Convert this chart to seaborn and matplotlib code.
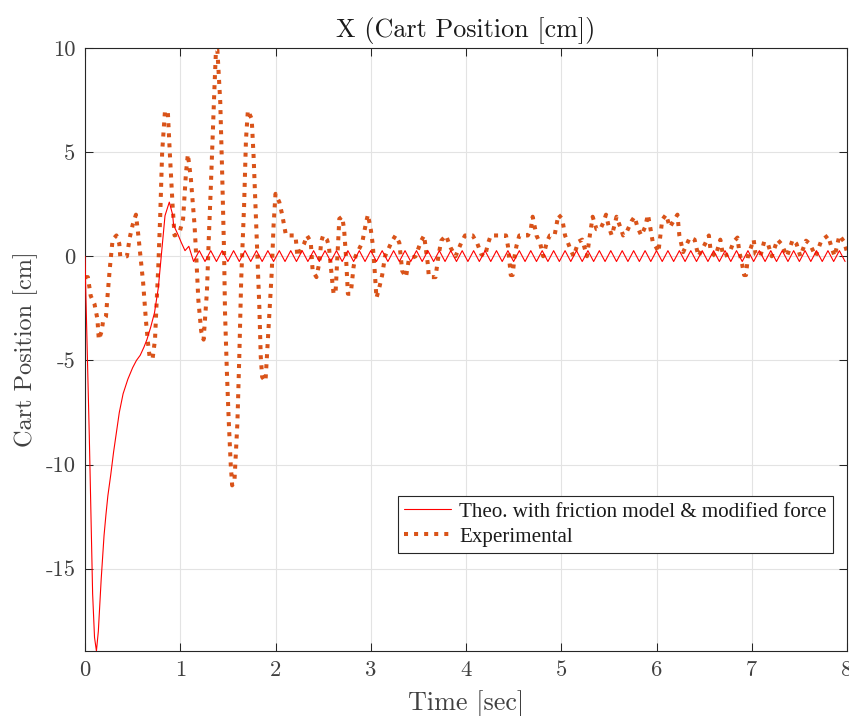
import numpy as np
import pandas as pd
import matplotlib
matplotlib.use("Agg")
import matplotlib.pyplot as plt
import seaborn as sns
from matplotlib.lines import Line2D

# ---------------- data ----------------
# theoretical transient (time [s], position [cm])
theo_trans_t = [0.00, 0.01, 0.045, 0.08, 0.10, 0.12, 0.14, 0.17, 0.20, 0.22,
                0.24, 0.27, 0.30, 0.325, 0.36, 0.40, 0.45, 0.50, 0.54, 0.58,
                0.62, 0.65, 0.69, 0.73, 0.77, 0.80, 0.84, 0.885, 0.92, 0.93,
                0.98, 1.01, 1.05, 1.09]
theo_trans_v = [0.0, -2.0, -8.6, -16.2, -18.3, -18.95, -18.0, -15.5, -13.4, -12.4,
                -11.5, -10.5, -9.4, -8.6, -7.5, -6.6, -5.9, -5.35, -5.0, -4.75,
                -4.35, -4.0, -3.4, -2.7, -1.5, 0.0, 1.95, 2.6, 2.0, 1.5,
                1.0, 0.67, 0.27, 0.48]
# theoretical steady oscillation (troughs / peaks)
theo_osc_t = [1.14, 1.20, 1.26, 1.32, 1.38, 1.44, 1.50, 1.56, 1.62, 1.68,
              1.74, 1.80, 1.86, 1.92, 1.98, 2.04, 2.10, 2.16, 2.22, 2.28,
              2.34, 2.40, 2.46, 2.52, 2.58, 2.64, 2.70, 2.76, 2.82, 2.88,
              2.94, 3.00, 3.06, 3.12, 3.18, 3.24, 3.30, 3.36, 3.42, 3.48,
              3.54, 3.60, 3.66, 3.72, 3.78, 3.84, 3.90, 3.96, 4.02, 4.08,
              4.14, 4.20, 4.26, 4.32, 4.38, 4.44, 4.50, 4.56, 4.62, 4.68,
              4.74, 4.80, 4.86, 4.92, 4.98, 5.04, 5.10, 5.16, 5.22, 5.28,
              5.34, 5.40, 5.46, 5.52, 5.58, 5.64, 5.70, 5.76, 5.82, 5.88,
              5.94, 6.00, 6.06, 6.12, 6.18, 6.24, 6.30, 6.36, 6.42, 6.48,
              6.54, 6.60, 6.66, 6.72, 6.78, 6.84, 6.90, 6.96, 7.02, 7.08,
              7.14, 7.20, 7.26, 7.32, 7.38, 7.44, 7.50, 7.56, 7.62, 7.68,
              7.74, 7.80, 7.86, 7.92, 7.98]
theo_osc_v = [-0.25, 0.27, -0.25, 0.27, -0.25, 0.27, -0.25, 0.27, -0.25, 0.27,
              -0.25, 0.27, -0.25, 0.27, -0.25, 0.27, -0.25, 0.27, -0.25, 0.27,
              -0.25, 0.27, -0.25, 0.27, -0.25, 0.27, -0.25, 0.27, -0.25, 0.27,
              -0.25, 0.27, -0.25, 0.27, -0.25, 0.27, -0.25, 0.27, -0.25, 0.27,
              -0.25, 0.27, -0.25, 0.27, -0.25, 0.27, -0.25, 0.27, -0.25, 0.27,
              -0.25, 0.27, -0.25, 0.27, -0.25, 0.27, -0.25, 0.27, -0.25, 0.27,
              -0.25, 0.27, -0.25, 0.27, -0.25, 0.27, -0.25, 0.27, -0.25, 0.27,
              -0.25, 0.27, -0.25, 0.27, -0.25, 0.27, -0.25, 0.27, -0.25, 0.27,
              -0.25, 0.27, -0.25, 0.27, -0.25, 0.27, -0.25, 0.27, -0.25, 0.27,
              -0.25, 0.27, -0.25, 0.27, -0.25, 0.27, -0.25, 0.27, -0.25, 0.27,
              -0.25, 0.27, -0.25, 0.27, -0.25, 0.27, -0.25, 0.27, -0.25, 0.27,
              -0.25, 0.27, -0.25, 0.27, -0.25]

# experimental (time [s], position [cm])
exp_t = [0.00, 0.03, 0.06, 0.10, 0.13, 0.145, 0.175, 0.19, 0.22, 0.235,
         0.26, 0.29, 0.33, 0.36, 0.37, 0.44, 0.47, 0.50, 0.535, 0.56,
         0.58, 0.61, 0.64, 0.66, 0.68, 0.71, 0.735, 0.75, 0.77, 0.79,
         0.81, 0.84, 0.87, 0.89, 0.92, 0.94, 0.99, 1.03, 1.06, 1.08,
         1.11, 1.15, 1.17, 1.19, 1.22, 1.245, 1.26, 1.28, 1.30, 1.32,
         1.34, 1.36, 1.375, 1.39, 1.42, 1.44, 1.46, 1.47, 1.49, 1.51,
         1.53, 1.545, 1.57, 1.60, 1.62, 1.64, 1.67, 1.69, 1.71, 1.75,
         1.77, 1.79, 1.81, 1.83, 1.845, 1.86, 1.895, 1.91, 1.93, 1.96,
         1.98, 2.00, 2.04, 2.07, 2.11, 2.21, 2.23, 2.30, 2.33, 2.37,
         2.39, 2.43, 2.46, 2.48, 2.50, 2.54, 2.56, 2.60, 2.61, 2.63,
         2.65, 2.67, 2.70, 2.72, 2.74, 2.76, 2.79, 2.82, 2.84, 2.91,
         2.95, 2.97, 3.00, 3.02, 3.04, 3.06, 3.09, 3.12, 3.15, 3.22,
         3.26, 3.30, 3.33, 3.37, 3.40, 3.47, 3.53, 3.56, 3.60, 3.61,
         3.68, 3.71, 3.74, 3.79, 3.84, 3.89, 3.95, 3.99, 4.07, 4.12,
         4.16, 4.20, 4.23, 4.26, 4.42, 4.44, 4.47, 4.49, 4.51, 4.53,
         4.56, 4.65, 4.68, 4.70, 4.74, 4.78, 4.81, 4.85, 4.88, 4.93,
         4.97, 5.01, 5.04, 5.10, 5.13, 5.18, 5.22, 5.27, 5.30, 5.33,
         5.37, 5.41, 5.44, 5.47, 5.50, 5.53, 5.56, 5.58, 5.62, 5.65,
         5.69, 5.74, 5.77, 5.80, 5.84, 5.88, 5.91, 5.93, 5.96, 6.00,
         6.02, 6.06, 6.10, 6.14, 6.18, 6.22, 6.24, 6.28, 6.35, 6.40,
         6.44, 6.51, 6.55, 6.57, 6.62, 6.67, 6.70, 6.76, 6.81, 6.85,
         6.87, 6.90, 6.92, 6.94, 6.96, 7.02, 7.04, 7.09, 7.13, 7.17,
         7.21, 7.27, 7.31, 7.37, 7.43, 7.47, 7.51, 7.57, 7.61, 7.67,
         7.73, 7.80, 7.84, 7.87, 7.92, 7.97, 8.00]
exp_v = [-1.0, -1.0, -1.9, -2.3, -3.0, -4.0, -3.6, -3.1, -2.9, -2.0,
         -0.6, 0.8, 1.0, 0.6, 0.0, 0.0, 0.9, 1.5, 2.0, 1.0,
         0.1, -1.25, -3.1, -4.1, -4.9, -4.9, -4.0, -2.4, -0.45, 2.0,
         5.0, 7.0, 6.9, 5.0, 2.4, 1.0, 1.1, 1.8, 4.0, 4.9,
         3.8, 1.5, -0.2, -2.1, -3.6, -4.0, -3.0, -1.7, 0.9, 3.2,
         5.7, 8.2, 9.9, 9.9, 7.4, 4.0, 0.2, -2.7, -5.6, -8.0,
         -10.0, -11.0, -10.7, -8.0, -4.8, -1.1, 2.4, 5.6, 7.0, 6.6,
         4.8, 2.4, 0.0, -2.4, -4.8, -5.8, -6.0, -4.8, -3.2, -0.8,
         1.5, 3.0, 2.6, 2.0, 1.0, 1.0, 0.0, 0.6, 1.0, 0.7,
         -0.7, -1.0, -0.3, 0.7, 1.0, 0.8, 0.5, -1.4, -1.8, -1.8,
         0.0, 1.8, 1.9, 1.3, 0.0, -1.8, -1.8, -0.5, 0.0, 0.65,
         1.6, 2.0, 1.3, 0.6, -0.6, -2.0, -1.5, -0.9, 0.0, 0.7,
         1.0, 0.65, -0.7, -1.0, -0.15, 0.0, 0.75, 1.0, -0.4, -1.0,
         -1.0, 0.0, 0.75, 1.0, 0.4, 0.0, 0.65, 1.0, 1.0, 0.6,
         0.1, 0.0, 0.6, 1.0, 1.0, 0.5, -0.9, -0.9, 0.0, 0.5,
         1.0, 1.0, 1.3, 1.9, 1.0, 0.6, 0.0, 0.7, 1.0, 1.0,
         2.0, 1.8, 1.0, 0.3, 0.0, 0.7, 0.8, 0.0, 1.0, 1.9,
         1.3, 1.3, 1.6, 2.0, 1.4, 1.0, 1.5, 1.9, 1.4, 1.0,
         1.2, 1.7, 1.9, 1.4, 1.0, 1.4, 2.0, 1.5, 0.7, 0.4,
         0.2, 1.75, 2.0, 1.4, 1.7, 2.0, 1.0, 0.2, 0.9, 0.8,
         0.0, 0.6, 1.0, 0.2, 0.0, 0.8, 0.0, 0.1, 0.7, 0.9,
         0.2, -0.4, -0.9, -0.9, 0.0, 0.8, 0.1, 0.0, 0.7, 0.6,
         0.0, 0.8, 0.6, 0.0, 0.8, 0.6, 0.0, 0.75, 0.6, 0.0,
         0.75, 1.0, 0.4, 0.0, 1.0, 0.7, 0.2]

x_ticks = [0, 1, 2, 3, 4, 5, 6, 7, 8]
y_ticks = [-15, -10, -5, 0, 5, 10]
y_tick_labels = ["-15", "-10", "-5", "0", "5", "10"]

title_text = "X (Cart Position [cm])"
x_label = "Time [sec]"
y_label = "Cart Position [cm]"
theo_label = "Theo. with friction model & modified force"
exp_label = "Experimental"

# ---------------- plot ----------------
sns.set_theme(style="white")
plt.rcParams["axes.unicode_minus"] = False
plt.rcParams["font.family"] = ["cmr10", "DejaVu Serif"]

theo_df = pd.DataFrame({"t": theo_trans_t + theo_osc_t,
                        "v": theo_trans_v + theo_osc_v})
exp_df = pd.DataFrame({"t": exp_t, "v": exp_v})

fig = plt.figure(figsize=(8.49, 7.16), dpi=100)
ax = fig.add_axes([85 / 849, 1 - 651 / 716, 762 / 849, 603 / 716])

theo_color = "#FF0000"
exp_color = "#D95319"

sns.lineplot(data=theo_df, x="t", y="v", ax=ax, color=theo_color,
             linewidth=0.8, sort=False, estimator=None, zorder=3)
sns.lineplot(data=exp_df, x="t", y="v", ax=ax, color=exp_color,
             linewidth=2.9, sort=False, estimator=None, zorder=2,
             linestyle=(0, (1, 1.5)))

ax.set_xlim(0, 8)
ax.set_ylim(-18.95, 10)
ax.set_xticks(x_ticks)
ax.set_xticklabels([str(v) for v in x_ticks])
ax.set_yticks(y_ticks)
ax.set_yticklabels(y_tick_labels)

text_col = "#404040"
ax.tick_params(axis="both", which="both", direction="in", length=5.5,
               width=0.75, color="#262626", labelsize=16.3,
               labelcolor=text_col, top=True, right=True, bottom=True,
               left=True, pad=7)
for s in ax.spines.values():
    s.set_color("#262626")
    s.set_linewidth(0.8)
ax.grid(True, color="#e3e3e3", linewidth=0.8)
ax.set_axisbelow(True)

ax.set_title(title_text, fontsize=18.8, color="#1a1a1a", pad=8)
ax.set_xlabel(x_label, fontsize=18.8, color=text_col, labelpad=7)
ax.set_ylabel(y_label, fontsize=17.5, color=text_col, labelpad=5)

handles = [Line2D([], [], color=theo_color, linewidth=0.8),
           Line2D([], [], color=exp_color, linewidth=2.9,
                  linestyle=(0, (1, 1.5)))]
leg = ax.legend(handles, [theo_label, exp_label], loc="lower right",
                bbox_to_anchor=(0.982, 0.1625), frameon=True, fancybox=False,
                framealpha=1, edgecolor="#262626",
                prop={"family": "Liberation Serif", "size": 15.1},
                handlelength=2.25, handletextpad=0.4, borderpad=0.3,
                labelspacing=0.25, borderaxespad=0)
leg.get_frame().set_linewidth(0.8)
for t in leg.get_texts():
    t.set_color("#1a1a1a")

fig.savefig("out.png", dpi=100)
